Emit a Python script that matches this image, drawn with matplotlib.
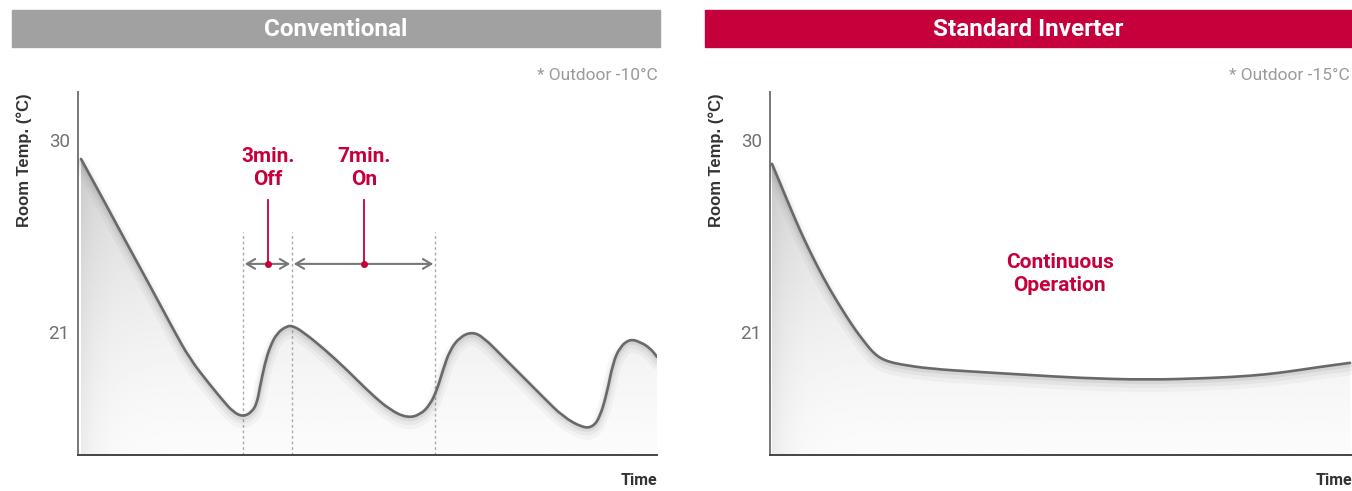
import numpy as np
import matplotlib
matplotlib.use("Agg")
import matplotlib.pyplot as plt
import matplotlib.patheffects as pe
from matplotlib.patches import Rectangle, PathPatch
from matplotlib.path import Path

# Conventional unit: room temperature over time (time scaled 0-100)
conv_time = [0.52, 4.49, 8.46, 12.44, 16.41, 19.34, 22.80, 25.04, 26.77, 28.50,
             30.05, 30.92, 31.43, 32.30, 33.16, 34.37, 36.10, 37.13, 38.86, 42.31,
             46.46, 50.43, 53.89, 56.82, 59.07, 60.79, 62.00, 63.04, 64.25, 65.98,
             68.05, 69.95, 73.40, 76.86, 80.31, 83.77, 87.22, 88.95, 90.16, 91.36,
             92.40, 93.61, 95.34, 97.06, 98.79, 100.0]
conv_temp = [29.11, 27.14, 25.13, 23.16, 21.14, 19.72, 18.52, 17.78, 17.25, 17.02,
             17.25, 17.67, 18.42, 19.55, 20.30, 20.95, 21.28, 21.28, 21.00, 20.25,
             19.22, 18.14, 17.34, 16.97, 17.11, 17.58, 18.28, 19.22, 20.16, 20.77,
             21.00, 20.77, 19.83, 18.89, 17.95, 17.02, 16.50, 16.55, 17.02, 18.14,
             19.55, 20.30, 20.67, 20.53, 20.25, 19.83]

# Standard inverter: continuous operation
inv_time = [0.34, 1.72, 2.92, 4.30, 5.67, 7.90, 10.31, 13.06, 14.78, 15.98, 17.18,
            18.21, 19.24, 20.62, 22.34, 27.49, 36.08, 44.67, 53.26, 64.78, 76.12,
            82.47, 87.63, 94.50, 99.66]
inv_temp = [28.88, 27.98, 27.19, 26.30, 25.45, 24.19, 22.97, 21.75, 21.05, 20.62,
            20.20, 19.92, 19.73, 19.59, 19.48, 19.27, 19.12, 18.98, 18.84, 18.75,
            18.84, 18.94, 19.08, 19.36, 19.55]

y_ticks = [21, 30]
off_span = [28.5, 36.96]   # 3min. off
on_span = [36.96, 61.66]   # 7min. on
arrow_temp = 24.19

panels = ["Conventional", "Standard Inverter"]
outdoor = ["* Outdoor -10°C", "* Outdoor -15°C"]
header_colors = ["#a0a1a0", "#c5003b"]
red = "#c5003b"
line_color = "#696969"

W, H = 1352, 491
fig = plt.figure(figsize=(W / 100, H / 100), dpi=100)
plt.rcParams['font.family'] = ['Roboto', 'DejaVu Sans']

ylo, yhi = 15.23, 32.25


def curve_path(t, y, base=None):
    # smooth path drawn with the read points as quadratic control points
    pts = np.column_stack([t, y])
    mids = (pts[:-1] + pts[1:]) / 2
    verts = [pts[0], mids[0]]
    codes = [Path.MOVETO, Path.LINETO]
    for i in range(1, len(pts) - 1):
        verts += [pts[i], mids[i]]
        codes += [Path.CURVE3, Path.CURVE3]
    verts.append(pts[-1])
    codes.append(Path.LINETO)
    if base is not None:
        verts += [(t[-1], base), (t[0], base), pts[0]]
        codes += [Path.LINETO, Path.LINETO, Path.CLOSEPOLY]
    return Path(verts, codes)


def px_axes(x0, x1):
    return fig.add_axes([x0 / W, (H - 455) / H, (x1 - x0) / W, 363 / H])


def draw_panel(ax, t, temp):
    ax.set_xlim(0, 100)
    ax.set_ylim(ylo, yhi)
    # gradient fill under the curve
    yy, xx = np.mgrid[0:1:200j, 0:1:200j]
    shade = 0.985 - 0.17 * yy ** 1.3 - 0.07 * np.exp(-xx / 0.03)
    im = ax.imshow(shade, cmap="gray", vmin=0, vmax=1, origin="lower",
                   extent=[0, 100, ylo, yhi], aspect="auto", zorder=1)
    im.set_clip_path(curve_path(t, temp, ylo), transform=ax.transData)
    line = PathPatch(curve_path(t, temp), fill=False, edgecolor=line_color, lw=1.9,
                     capstyle="round", joinstyle="round", zorder=3,
                     path_effects=[pe.SimpleLineShadow(offset=(0, -4), shadow_color="k", alpha=0.03, linewidth=10),
                                   pe.SimpleLineShadow(offset=(0, -3), shadow_color="k", alpha=0.04, linewidth=6),
                                   pe.SimpleLineShadow(offset=(0, -1.5), shadow_color="k", alpha=0.06, linewidth=3.5),
                                   pe.Normal()])
    ax.add_patch(line)
    for s in ["top", "right"]:
        ax.spines[s].set_visible(False)
    ax.spines["left"].set_color("#777777")
    ax.spines["left"].set_linewidth(1.4)
    ax.spines["bottom"].set_color("#444444")
    ax.spines["bottom"].set_linewidth(1.4)
    ax.set_xticks([])
    ax.set_yticks(y_ticks)
    ax.set_yticklabels([str(v) for v in y_ticks], fontsize=13.5, color="#707070")
    ax.tick_params(axis="y", length=0, pad=6)
    ax.text(1.0, -0.069, "Time", transform=ax.transAxes, ha="right", va="center",
            fontsize=11.5, fontweight="bold", color="#333333")


axes = [px_axes(78, 657), px_axes(770, 1352)]
draw_panel(axes[0], conv_time, conv_temp)
draw_panel(axes[1], inv_time, inv_temp)

# headers and notes
for i, (x0, x1) in enumerate([(12, 660), (705, 1352)]):
    fig.patches.append(Rectangle((x0 / W, (H - 47) / H), (x1 - x0) / W, 37 / H,
                                 transform=fig.transFigure, color=header_colors[i]))
    fig.text((x0 + x1) / 2 / W, (H - 30) / H, panels[i], ha="center", va="center",
             color="white", fontsize=17.5, fontweight="bold")
    fig.text((x1 - 2) / W, (H - 76) / H, outdoor[i], ha="right", va="center",
             color="#9a9a9a", fontsize=12.5)

for xl in [24, 716]:
    fig.text(xl / W, (H - 160) / H, "Room Temp. (°C)", rotation=90, ha="center",
             va="center", fontsize=12, fontweight="bold", color="#333333",
             family=["Liberation Sans", "DejaVu Sans"])

# conventional annotations
ax = axes[0]
for xv in [off_span[0], off_span[1], on_span[1]]:
    ax.plot([xv, xv], [ylo, 25.69], color="#aaaaaa", lw=1, ls=(0, (2, 2)), zorder=2)
for a, b in [off_span, on_span]:
    ax.annotate("", xy=(a + 0.3, arrow_temp), xytext=(b - 0.3, arrow_temp),
                arrowprops=dict(arrowstyle="<->,head_length=0.6,head_width=0.35",
                                color="#777777", lw=1.5, shrinkA=0, shrinkB=0), zorder=4)
for xm, label in [(32.82, "3min.\nOff"), (49.4, "7min.\nOn")]:
    ax.plot([xm, xm], [arrow_temp, 27.19], color=red, lw=1.3, zorder=5)
    ax.plot([xm], [arrow_temp], "o", color=red, ms=4, zorder=6)
    ax.text(xm, 28.69, label, ha="center", va="center", color=red, fontsize=15,
            fontweight="bold", linespacing=1.3)

axes[1].text(49.8, 23.72, "Continuous\nOperation", ha="center", va="center",
             color=red, fontsize=15, fontweight="bold", linespacing=1.3)

fig.savefig("out.png", dpi=100)
